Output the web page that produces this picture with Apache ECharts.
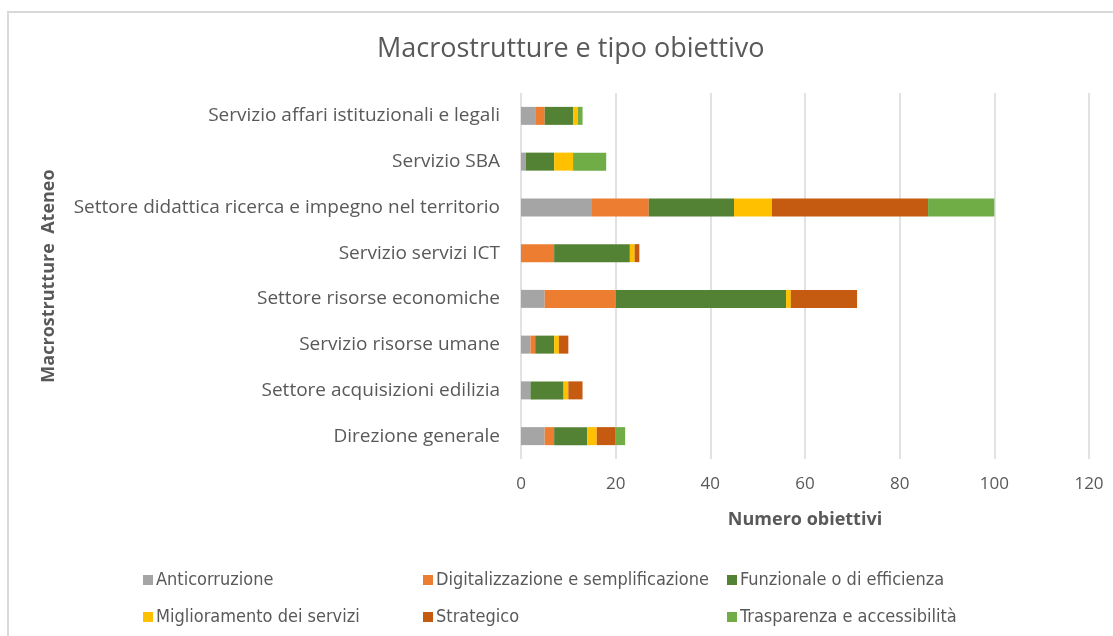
<!DOCTYPE html>
<html><head><meta charset="utf-8">
<script src="https://cdn.jsdelivr.net/npm/echarts@6/dist/echarts.min.js"></script>
<style>html,body{margin:0;padding:0;background:#fff}#c{width:1113px;height:636px}</style>
</head><body><div id="c"></div>
<script>
const categories = ["Direzione generale","Settore acquisizioni edilizia","Servizio risorse umane","Settore risorse economiche","Servizio servizi ICT","Settore didattica ricerca e impegno nel territorio","Servizio SBA","Servizio affari istituzionali e legali"];
const seriesNames = ["Anticorruzione","Digitalizzazione e semplificazione","Funzionale o di efficienza","Miglioramento dei servizi","Strategico","Trasparenza e accessibilità"];
const anticorruzione   = [5, 2, 2, 5, 0, 15, 1, 3];
const digitalizzazione = [2, 0, 1, 15, 7, 12, 0, 2];
const funzionale       = [7, 7, 4, 36, 16, 18, 6, 6];
const miglioramento    = [2, 1, 1, 1, 1, 8, 4, 1];
const strategico       = [4, 3, 2, 14, 1, 33, 0, 0];
const trasparenza      = [2, 0, 0, 0, 0, 14, 7, 1];
const xTicks = [0, 20, 40, 60, 80, 100, 120];

const colors = ["#A5A5A5","#ED7D31","#548235","#FFC000","#C55A11","#70AD47"];
const values = [anticorruzione, digitalizzazione, funzionale, miglioramento, strategico, trasparenza];
const txt = "#595959";
const font = "Open Sans";

const chart = echarts.init(document.getElementById('c'));
const legendPos = [[138,566],[418,566],[722,566],[138,603],[418,603],[722,603]];
chart.setOption({
  animation: false,
  backgroundColor: "#fff",
  graphic: [{type:'rect', shape:{x:8,y:12,width:1120,height:640}, style:{fill:'none', stroke:'#d9d9d9', lineWidth:2}, silent:true}],
  title: {text: "Macrostrutture e tipo obiettivo", left: 372, top: 31,
    textStyle:{fontFamily:font, fontSize:27, fontWeight:'normal', color:txt}},
  legend: seriesNames.map((n,i)=>({data:[n], left:legendPos[i][0], top:legendPos[i][1], itemWidth:10, itemHeight:10, icon:'rect', itemGap:4,
    textStyle:{fontFamily:"Liberation Sans Narrow, DejaVu Sans Condensed, sans-serif", fontSize:18, color:txt, padding:[0,0,0,-2]}})),
  grid: {left:521, right:24, top:93, bottom:177, containLabel:false},
  xAxis: {type:'value', min:0, max:120, interval:20,
    name:"Numero obiettivi", nameLocation:'middle', nameGap:52,
    nameTextStyle:{fontFamily:font, fontSize:18, fontWeight:'bold', color:txt},
    axisLine:{show:false}, axisTick:{show:false},
    axisLabel:{fontFamily:font, fontSize:17, color:txt, margin:17, formatter:v=>xTicks.includes(v)?String(v):''},
    splitLine:{lineStyle:{color:'#d9d9d9', width:1.5}}},
  yAxis: {type:'category', data:categories,
    name:"Macrostrutture  Ateneo", nameLocation:'middle', nameGap:463, nameRotate:90,
    nameTextStyle:{fontFamily:font, fontSize:18, fontWeight:'bold', color:txt},
    axisLine:{show:false}, axisTick:{show:false},
    axisLabel:{fontFamily:font, fontSize:19, color:txt, margin:21}},
  series: seriesNames.map((n,i)=>({name:n, type:'bar', stack:'tot', data:values[i], barWidth:18,
    itemStyle:{color:colors[i]}}))
});
</script></body></html>
